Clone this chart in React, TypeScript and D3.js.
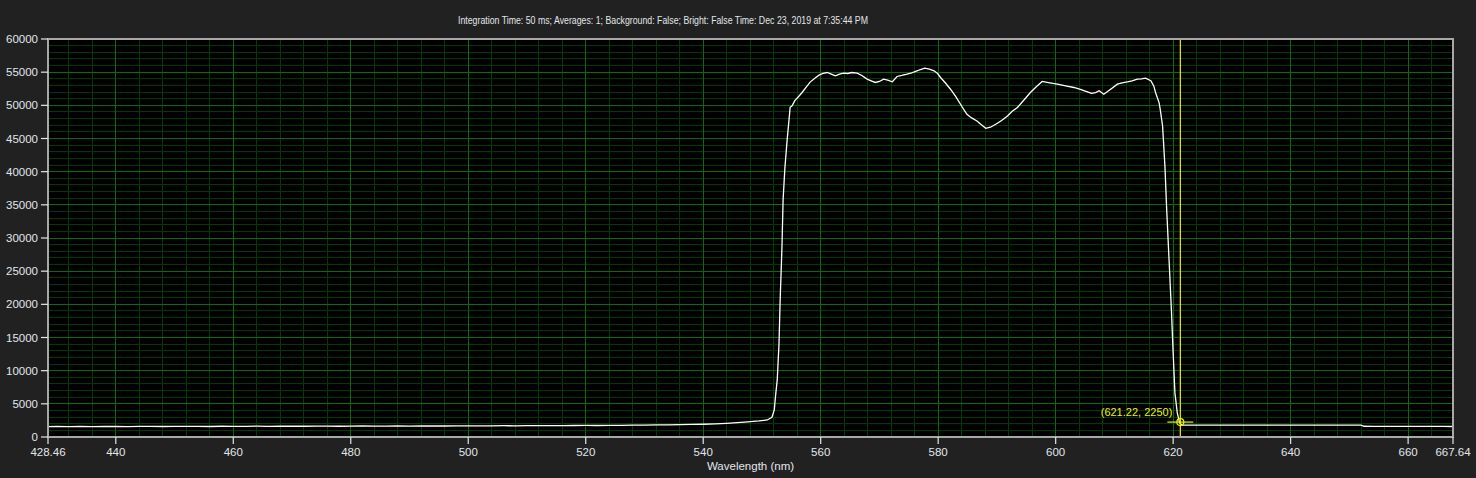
import React from "react";
import * as d3 from "d3";

const WIDTH = 1476;
const HEIGHT = 478;
const MARGIN = {left: 48, right: 23, top: 39, bottom: 41};

const TITLE = "Integration Time: 50 ms; Averages: 1; Background: False; Bright: False Time: Dec 23, 2019 at 7:35:44 PM";
const X_LABEL = "Wavelength (nm)";

const X_MIN = 428.46;
const X_MAX = 667.64;
const X_TICKS = [428.46, 440, 460, 480, 500, 520, 540, 560, 580, 600, 620, 640, 660, 667.64];
const Y_TICKS = [0, 5000, 10000, 15000, 20000, 25000, 30000, 35000, 40000, 45000, 50000, 55000, 60000];

const CURSOR = {x: 621.22, y: 2250};

// spectrum
const wavelengths = [
    428.46, 430, 432, 434, 436, 438, 440, 442, 444, 446, 448, 450, 452, 454, 456, 458, 460, 462, 464, 466,
    468, 470, 472, 474, 476, 478, 480, 482, 484, 486, 488, 490, 492, 494, 496, 498, 500, 502, 504, 506,
    508, 510, 512, 514, 516, 518, 520, 522, 524, 526, 528, 530, 532, 534, 536, 538, 540, 542, 544, 545.8,
    547, 548, 549.5, 550.9, 551.7, 552.1, 552.3, 552.6, 552.9, 553.1, 553.4, 553.6, 553.9, 554.3, 554.8, 555.1,
    555.6, 556.2, 556.8, 557.5, 558.2, 559, 559.7, 560.4, 561.1, 561.8, 562.5, 563.2, 563.9, 564.6, 565.3, 566.2,
    567, 567.9, 568.6, 569.3, 570, 570.7, 571.4, 572.2, 573, 573.8, 574.7, 575.5, 576.4, 577, 577.7, 578.5,
    579.3, 579.9, 580.4, 581.2, 582.1, 583, 583.8, 584.4, 584.9, 585.7, 586.6, 587.3, 588.1, 588.9, 589.8, 590.8,
    591.8, 592.6, 593.5, 594.6, 595.7, 596.7, 597.7, 599, 600.3, 601.7, 603.1, 604.2, 605.4, 606.1, 606.8, 607.4,
    608.2, 609.3, 610.5, 611.3, 612.2, 613, 613.9, 614.6, 615.3, 616.2, 616.7, 617, 617.6, 617.8, 618.2, 618.6,
    618.9, 619.3, 619.7, 620, 620.3, 620.7, 621.1, 621.5, 622, 624, 626, 628, 630, 632, 634, 636,
    638, 640, 642, 644, 646, 648, 650, 652, 652.5, 654, 656, 658, 660, 662, 664, 666, 667.64
];

const counts = [
    1560, 1580, 1560, 1590, 1570, 1580, 1600, 1560, 1590, 1600, 1580, 1610, 1590, 1600, 1580, 1620, 1600, 1610, 1630, 1600,
    1620, 1640, 1620, 1630, 1650, 1620, 1640, 1660, 1640, 1650, 1670, 1650, 1660, 1680, 1660, 1680, 1690, 1670, 1690, 1700,
    1690, 1710, 1700, 1720, 1710, 1730, 1740, 1730, 1750, 1760, 1780, 1800, 1820, 1840, 1860, 1890, 1920, 1980, 2060, 2160,
    2240, 2310, 2430, 2570, 2980, 4080, 6090, 8610, 14000, 20700, 28500, 35800, 40500, 44900, 49700, 49900,
    50700, 51300, 51900, 52700, 53500, 54100, 54550, 54800, 54950, 54700, 54450, 54700, 54850, 54800, 54950, 54850,
    54500, 53950, 53700, 53450, 53600, 53950, 53800, 53550, 54350, 54500, 54700, 54900, 55200, 55400, 55600, 55450,
    55200, 54800, 54200, 53400, 52430, 51300, 50160, 49300, 48650, 48100, 47650, 47100, 46540, 46700, 47140, 47700,
    48400, 49100, 49670, 50800, 51930, 52800, 53600, 53400, 53190, 52950, 52690, 52400, 52030, 51800, 51930, 52200,
    51680, 52400, 53190, 53400, 53550, 53700, 53950, 54000, 54100, 53700, 52930, 51930, 50420, 49400, 46890, 40840,
    34300, 26750, 19190, 12690, 6650, 3630, 2120, 1810, 1790, 1800, 1790, 1800, 1780, 1790, 1800, 1780,
    1790, 1800, 1790, 1780, 1790, 1780, 1790, 1780, 1620, 1610, 1600, 1610, 1590, 1600, 1590, 1600, 1580
];

const BG = "#212121";
const TEXT = "#e2e6ea";
const BORDER = "#a8a8a8";
const GRID_MAJOR = "#0b6b0b";
const GRID_MINOR = "#033903";
const CURSOR_COLOR = "#f2f200";
const FONT = "'Liberation Sans', Arial, sans-serif";

export default function App() {
    const x = d3.scaleLinear().domain([X_MIN, X_MAX]).range([MARGIN.left, WIDTH - MARGIN.right]);
    const y = d3.scaleLinear().domain([0, 60000]).range([HEIGHT - MARGIN.bottom, MARGIN.top]);

    const xMinor = d3.range(432, X_MAX, 4).filter(v => v % 20 !== 0);
    const xMajor = d3.range(440, X_MAX, 20);
    const yMinor = d3.range(1000, 60000, 1000).filter(v => v % 5000 !== 0);
    const yMajor = d3.range(5000, 60000, 5000);

    const points = wavelengths.map((w, i) => [w, counts[i]] as [number, number]);
    const line = d3.line<[number, number]>().x(d => x(d[0])).y(d => y(d[1]));

    const [x0, x1] = x.range();
    const [y0, y1] = y.range();
    const cx = x(CURSOR.x);
    const cy = y(CURSOR.y);

    return (
        <svg width={WIDTH} height={HEIGHT} style={{position: "absolute", left: 0, top: 0, background: BG}}
             fontFamily={FONT}>
            <rect x={0} y={0} width={WIDTH} height={HEIGHT} fill={BG}/>
            <text x={458} y={24} fill={TEXT} fontSize={11.5} textLength={410} lengthAdjust="spacingAndGlyphs">{TITLE}</text>

            <rect x={x0} y={y1} width={x1 - x0} height={y0 - y1} fill="#000"/>

            <g shapeRendering="crispEdges" strokeWidth={1}>
                {xMinor.map(v => <line key={"xm" + v} x1={x(v)} x2={x(v)} y1={y1} y2={y0} stroke={GRID_MINOR}/>)}
                {yMinor.map(v => <line key={"ym" + v} x1={x0} x2={x1} y1={y(v)} y2={y(v)} stroke={GRID_MINOR}/>)}
                {xMajor.map(v => <line key={"xM" + v} x1={x(v)} x2={x(v)} y1={y1} y2={y0} stroke={GRID_MAJOR}/>)}
                {yMajor.map(v => <line key={"yM" + v} x1={x0} x2={x1} y1={y(v)} y2={y(v)} stroke={GRID_MAJOR}/>)}
            </g>

            <path d={line(points) ?? ""} fill="none" stroke="#fff" strokeWidth={1.3}/>

            <g stroke={CURSOR_COLOR} fill="none" strokeWidth={1.2}>
                <line x1={cx} x2={cx} y1={y1} y2={y0}/>
                <line x1={cx - 13} x2={cx + 13} y1={cy} y2={cy}/>
                <circle cx={cx} cy={cy} r={3.5}/>
            </g>
            <text x={cx - 8} y={cy - 6} textAnchor="end" fill={CURSOR_COLOR} fontSize={11}>
                ({CURSOR.x}, {CURSOR.y})
            </text>

            <rect x={x0} y={y1} width={x1 - x0} height={y0 - y1} fill="none" stroke={BORDER}
                  strokeWidth={1.5} shapeRendering="crispEdges"/>

            <g fill={TEXT} fontSize={11.5}>
                {Y_TICKS.map(v => (
                    <g key={"yt" + v}>
                        <line x1={x0 - 7} x2={x0} y1={y(v)} y2={y(v)} stroke={TEXT} strokeWidth={1.2}/>
                        <text x={x0 - 10} y={y(v)} dy="0.35em" textAnchor="end">{v}</text>
                    </g>
                ))}
                {X_TICKS.map(v => (
                    <g key={"xt" + v}>
                        <line x1={x(v)} x2={x(v)} y1={y0} y2={y0 + 7} stroke={TEXT} strokeWidth={1.2}/>
                        <text x={x(v)} y={y0 + 19} textAnchor="middle">{v}</text>
                    </g>
                ))}
                <text x={(x0 + x1) / 2} y={HEIGHT - 8} textAnchor="middle">{X_LABEL}</text>
            </g>
        </svg>
    );
}
